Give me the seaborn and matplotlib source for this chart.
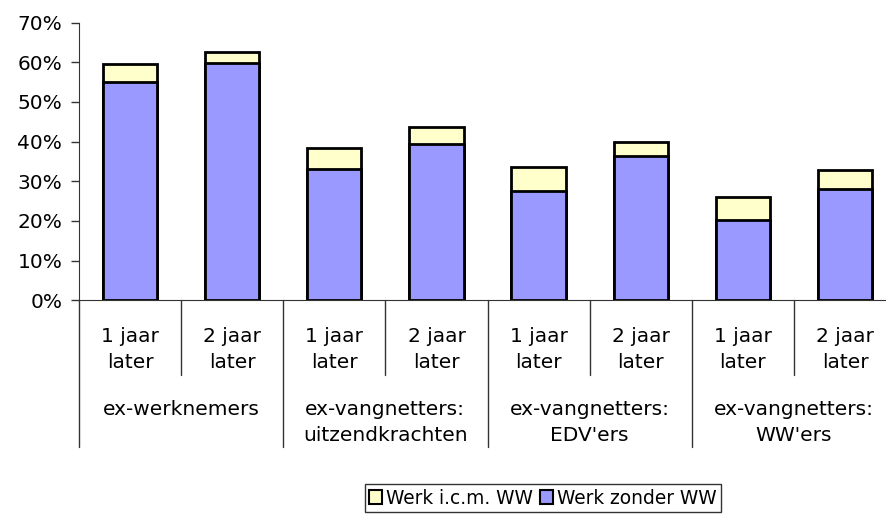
import numpy as np
import pandas as pd
import seaborn as sns
import matplotlib.pyplot as plt
from matplotlib.patches import Patch

# Data
sub_labels = ["1 jaar\nlater", "2 jaar\nlater"] * 4
groups = ["ex-werknemers", "ex-vangnetters:\nuitzendkrachten",
          "ex-vangnetters:\nEDV'ers", "ex-vangnetters:\nWW'ers"]
werk_zonder_ww = [55.0, 59.7, 33.1, 39.5, 27.6, 36.3, 20.2, 28.0]
werk_icm_ww = [4.5, 2.8, 5.3, 4.1, 5.9, 3.5, 5.8, 4.8]

BLUE = "#9999FF"
YELLOW = "#FFFFCC"

df = pd.DataFrame({
    "pos": [f"c{i}" for i in range(8)],
    "zonder": np.array(werk_zonder_ww) / 100,
})
df["totaal"] = df["zonder"] + np.array(werk_icm_ww) / 100

sns.set_style("white")
plt.rcParams["font.family"] = ["DejaVu Sans"]
plt.rcParams["text.color"] = "black"
FS = 14.5

fig = plt.figure(figsize=(8.86, 5.21), dpi=100)
W, H = 886, 521
ax = fig.add_axes([79 / W, (H - 300.3) / H, 817 / W, 277.7 / H])

# gestapelde staven: eerst totaal (geel), dan zonder WW (blauw) erover
sns.barplot(data=df, x="pos", y="totaal", color=YELLOW, saturation=1,
            width=0.53, edgecolor="black", linewidth=2, ax=ax)
sns.barplot(data=df, x="pos", y="zonder", color=BLUE, saturation=1,
            width=0.53, edgecolor="black", linewidth=2, ax=ax)

ax.set_xlim(-0.5, 7.5)
ax.set_ylim(0, 0.7)
ax.set_yticks(np.arange(0, 0.71, 0.1))
ax.set_yticklabels([f"{int(round(v * 100))}%" for v in np.arange(0, 0.71, 0.1)],
                   fontsize=FS, color="black")
ax.tick_params(axis="y", direction="out", length=6, width=1, color="#333333",
               pad=6, left=True)
ax.set_xticks([])
ax.set_xlabel("")
ax.set_ylabel("")

for s in ["top", "right"]:
    ax.spines[s].set_visible(False)
ax.spines["left"].set_color("#333333")
ax.spines["bottom"].set_color("#333333")

# hiërarchische categorie-as
tr = ax.get_xaxis_transform()
px = 1 / 277.7
for i in range(8):
    ax.annotate(sub_labels[i], xy=(i, 0), xycoords=tr, xytext=(0, -27),
                textcoords="offset pixels", ha="center", va="top",
                fontsize=FS, linespacing=1.45)
for g in range(4):
    ax.annotate(groups[g], xy=(2 * g + 0.5, 0), xycoords=tr, xytext=(0, -100),
                textcoords="offset pixels", ha="center", va="top",
                fontsize=FS, linespacing=1.45)
for x in [0.5, 2.5, 4.5, 6.5]:
    ax.plot([x, x], [0, -75 * px], transform=tr, color="#333333", lw=1,
            clip_on=False)
for x in [-0.5, 1.5, 3.5, 5.5, 7.5]:
    ax.plot([x, x], [0, -147 * px], transform=tr, color="#333333", lw=1,
            clip_on=False)

handles = [Patch(facecolor=YELLOW, edgecolor="black", lw=1.5, label="Werk i.c.m. WW"),
           Patch(facecolor=BLUE, edgecolor="black", lw=1.5, label="Werk zonder WW")]
leg = fig.legend(handles=handles, loc="center", bbox_to_anchor=(543 / W, 1 - 498 / H),
                 ncol=2, fontsize=13.4, frameon=True, fancybox=False,
                 handlelength=0.7, handleheight=0.7, handletextpad=0.2,
                 columnspacing=0.4, borderpad=0.25, borderaxespad=0)
leg.get_frame().set_edgecolor("black")
leg.get_frame().set_linewidth(1)

fig.savefig("out.png", dpi=100)
